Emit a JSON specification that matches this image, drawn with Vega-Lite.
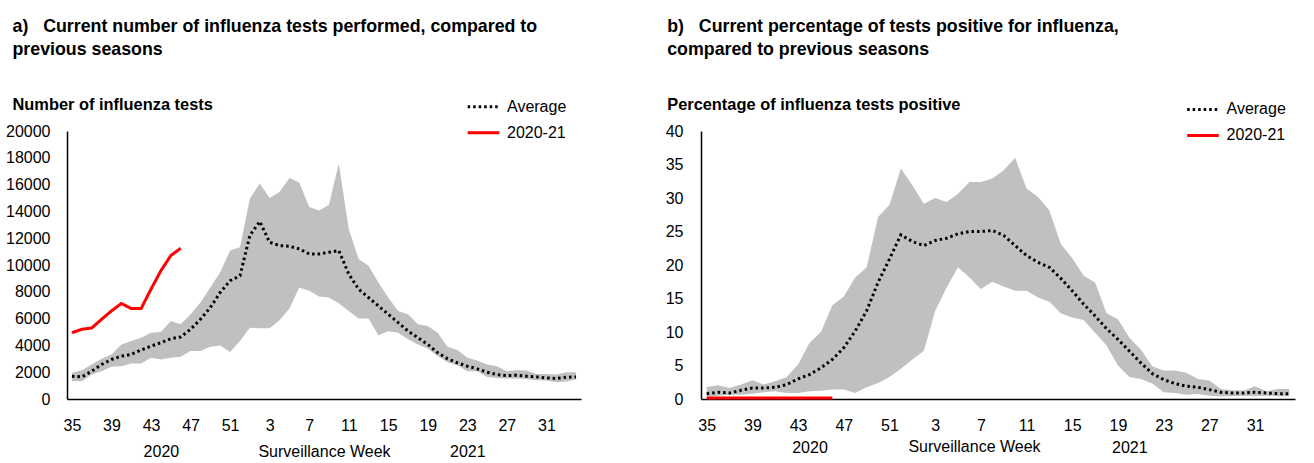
{
  "$schema": "https://vega.github.io/schema/vega-lite/v6.json",
  "background": "white",
  "padding": {"left": 5, "top": 17, "right": 5, "bottom": 0},
  "spacing": 82,
  "config": {
    "view": {"stroke": null},
    "font": "Liberation Sans",
    "axis": {"grid": false, "ticks": false, "domainColor": "black", "domainWidth": 1.5, "labelColor": "black", "labelFont": "Liberation Sans", "labelFontSize": 16, "titleFont": "Liberation Sans", "titleFontWeight": "normal", "titleFontSize": 16, "titleColor": "black", "labelOverlap": false},
    "axisY": {"labelOverlap": false},
    "legend": {"labelFont": "Liberation Sans", "labelFontSize": 16, "labelColor": "black", "symbolType": "stroke", "symbolStrokeWidth": 3, "padding": 0},
    "title": {"font": "Liberation Sans", "fontSize": 17.8, "fontWeight": "bold", "color": "black", "anchor": "start", "lineHeight": 23.5, "subtitleFont": "Liberation Sans", "subtitleFontSize": 16.4, "subtitleFontWeight": "bold", "subtitleColor": "black", "subtitlePadding": 38}
  },
  "datasets": {
    "tests": [
      {"wk": 35, "lo": 1325, "hi": 1950, "Average": 1700, "2020-21": 4950},
      {"wk": 36, "lo": 1325, "hi": 2150, "Average": 1650, "2020-21": 5200},
      {"wk": 37, "lo": 1825, "hi": 2575, "Average": 2075, "2020-21": 5300},
      {"wk": 38, "lo": 2075, "hi": 3000, "Average": 2575, "2020-21": 5950},
      {"wk": 39, "lo": 2400, "hi": 3325, "Average": 2950, "2020-21": 6575},
      {"wk": 40, "lo": 2450, "hi": 4075, "Average": 3200, "2020-21": 7125},
      {"wk": 41, "lo": 2650, "hi": 4325, "Average": 3325, "2020-21": 6750},
      {"wk": 42, "lo": 2650, "hi": 4575, "Average": 3650, "2020-21": 6750},
      {"wk": 43, "lo": 3075, "hi": 4950, "Average": 3950, "2020-21": 8200},
      {"wk": 44, "lo": 2950, "hi": 5000, "Average": 4200, "2020-21": 9575},
      {"wk": 45, "lo": 3075, "hi": 5825, "Average": 4500, "2020-21": 10700},
      {"wk": 46, "lo": 3150, "hi": 5575, "Average": 4625, "2020-21": 11250},
      {"wk": 47, "lo": 3575, "hi": 6325, "Average": 5200},
      {"wk": 48, "lo": 3575, "hi": 7200, "Average": 5950},
      {"wk": 49, "lo": 3900, "hi": 8325, "Average": 6825},
      {"wk": 50, "lo": 4000, "hi": 9450, "Average": 7950},
      {"wk": 51, "lo": 3500, "hi": 11075, "Average": 8825},
      {"wk": 52, "lo": 4325, "hi": 11325, "Average": 9200},
      {"wk": 1, "lo": 5325, "hi": 14950, "Average": 12200},
      {"wk": 2, "lo": 5275, "hi": 16075, "Average": 13250},
      {"wk": 3, "lo": 5275, "hi": 15000, "Average": 11700},
      {"wk": 4, "lo": 5875, "hi": 15450, "Average": 11450},
      {"wk": 5, "lo": 6750, "hi": 16500, "Average": 11400},
      {"wk": 6, "lo": 8325, "hi": 16150, "Average": 11200},
      {"wk": 7, "lo": 8075, "hi": 14325, "Average": 10825},
      {"wk": 8, "lo": 7650, "hi": 14075, "Average": 10825},
      {"wk": 9, "lo": 7575, "hi": 14500, "Average": 10950},
      {"wk": 10, "lo": 7150, "hi": 17575, "Average": 11075},
      {"wk": 11, "lo": 6575, "hi": 12700, "Average": 9325},
      {"wk": 12, "lo": 6000, "hi": 10450, "Average": 8200},
      {"wk": 13, "lo": 6000, "hi": 9950, "Average": 7575},
      {"wk": 14, "lo": 4750, "hi": 8700, "Average": 6950},
      {"wk": 15, "lo": 5050, "hi": 7575, "Average": 6325},
      {"wk": 16, "lo": 4950, "hi": 6575, "Average": 5700},
      {"wk": 17, "lo": 4450, "hi": 6325, "Average": 5075},
      {"wk": 18, "lo": 4075, "hi": 5575, "Average": 4575},
      {"wk": 19, "lo": 3750, "hi": 5450, "Average": 4075},
      {"wk": 20, "lo": 3200, "hi": 4950, "Average": 3450},
      {"wk": 21, "lo": 2750, "hi": 3900, "Average": 3000},
      {"wk": 22, "lo": 2525, "hi": 3650, "Average": 2700},
      {"wk": 23, "lo": 2075, "hi": 3075, "Average": 2450},
      {"wk": 24, "lo": 2075, "hi": 2875, "Average": 2250},
      {"wk": 25, "lo": 1650, "hi": 2575, "Average": 2000},
      {"wk": 26, "lo": 1575, "hi": 2450, "Average": 1825},
      {"wk": 27, "lo": 1525, "hi": 2075, "Average": 1750},
      {"wk": 28, "lo": 1525, "hi": 2150, "Average": 1775},
      {"wk": 29, "lo": 1500, "hi": 2125, "Average": 1700},
      {"wk": 30, "lo": 1400, "hi": 1875, "Average": 1650},
      {"wk": 31, "lo": 1375, "hi": 1875, "Average": 1575},
      {"wk": 32, "lo": 1250, "hi": 1825, "Average": 1525},
      {"wk": 33, "lo": 1300, "hi": 2000, "Average": 1625},
      {"wk": 34, "lo": 1450, "hi": 2000, "Average": 1650}
    ],
    "pos": [
      {"wk": 35, "lo": 0.3, "hi": 1.8, "Average": 0.8, "2020-21": 0.15},
      {"wk": 36, "lo": 0.5, "hi": 2.05, "Average": 1.0, "2020-21": 0.15},
      {"wk": 37, "lo": 0.65, "hi": 1.65, "Average": 0.9, "2020-21": 0.15},
      {"wk": 38, "lo": 0.65, "hi": 2.15, "Average": 1.3, "2020-21": 0.15},
      {"wk": 39, "lo": 0.8, "hi": 2.8, "Average": 1.65, "2020-21": 0.15},
      {"wk": 40, "lo": 1.0, "hi": 2.15, "Average": 1.65, "2020-21": 0.15},
      {"wk": 41, "lo": 1.15, "hi": 2.65, "Average": 1.75, "2020-21": 0.15},
      {"wk": 42, "lo": 0.9, "hi": 3.3, "Average": 2.15, "2020-21": 0.15},
      {"wk": 43, "lo": 0.9, "hi": 5.15, "Average": 3.0, "2020-21": 0.15},
      {"wk": 44, "lo": 1.15, "hi": 8.4, "Average": 3.65, "2020-21": 0.15},
      {"wk": 45, "lo": 1.25, "hi": 10.0, "Average": 4.65, "2020-21": 0.15},
      {"wk": 46, "lo": 1.4, "hi": 14.0, "Average": 5.9, "2020-21": 0.15},
      {"wk": 47, "lo": 1.4, "hi": 15.3, "Average": 7.65},
      {"wk": 48, "lo": 0.9, "hi": 18.15, "Average": 10.15},
      {"wk": 49, "lo": 1.75, "hi": 19.65, "Average": 13.15},
      {"wk": 50, "lo": 2.4, "hi": 27.15, "Average": 17.4},
      {"wk": 51, "lo": 3.3, "hi": 29.0, "Average": 20.9},
      {"wk": 52, "lo": 4.5, "hi": 34.4, "Average": 24.5},
      {"wk": 1, "lo": 5.9, "hi": 31.9, "Average": 23.5},
      {"wk": 2, "lo": 7.15, "hi": 29.15, "Average": 22.9},
      {"wk": 3, "lo": 13.15, "hi": 30.0, "Average": 23.65},
      {"wk": 4, "lo": 16.65, "hi": 29.4, "Average": 24.0},
      {"wk": 5, "lo": 19.65, "hi": 30.65, "Average": 24.65},
      {"wk": 6, "lo": 18.15, "hi": 32.4, "Average": 25.0},
      {"wk": 7, "lo": 16.4, "hi": 32.4, "Average": 25.0},
      {"wk": 8, "lo": 17.5, "hi": 32.9, "Average": 25.15},
      {"wk": 9, "lo": 16.8, "hi": 34.15, "Average": 24.4},
      {"wk": 10, "lo": 16.15, "hi": 36.0, "Average": 22.9},
      {"wk": 11, "lo": 16.15, "hi": 31.4, "Average": 21.4},
      {"wk": 12, "lo": 15.15, "hi": 30.15, "Average": 20.4},
      {"wk": 13, "lo": 14.5, "hi": 28.15, "Average": 19.65},
      {"wk": 14, "lo": 12.8, "hi": 23.15, "Average": 18.0},
      {"wk": 15, "lo": 12.15, "hi": 21.0, "Average": 16.15},
      {"wk": 16, "lo": 11.8, "hi": 18.4, "Average": 14.15},
      {"wk": 17, "lo": 9.9, "hi": 17.4, "Average": 12.4},
      {"wk": 18, "lo": 8.0, "hi": 12.8, "Average": 10.5},
      {"wk": 19, "lo": 5.0, "hi": 11.9, "Average": 8.9},
      {"wk": 20, "lo": 3.3, "hi": 9.15, "Average": 7.15},
      {"wk": 21, "lo": 3.0, "hi": 7.4, "Average": 5.4},
      {"wk": 22, "lo": 2.3, "hi": 4.9, "Average": 3.8},
      {"wk": 23, "lo": 1.0, "hi": 4.25, "Average": 2.9},
      {"wk": 24, "lo": 0.9, "hi": 4.25, "Average": 2.3},
      {"wk": 25, "lo": 0.65, "hi": 3.9, "Average": 1.9},
      {"wk": 26, "lo": 0.75, "hi": 3.0, "Average": 1.75},
      {"wk": 27, "lo": 0.5, "hi": 2.75, "Average": 1.4},
      {"wk": 28, "lo": 0.4, "hi": 1.5, "Average": 1.0},
      {"wk": 29, "lo": 0.4, "hi": 1.3, "Average": 0.9},
      {"wk": 30, "lo": 0.5, "hi": 1.25, "Average": 0.9},
      {"wk": 31, "lo": 0.4, "hi": 1.9, "Average": 1.0},
      {"wk": 32, "lo": 0.5, "hi": 1.15, "Average": 0.9},
      {"wk": 33, "lo": 0.4, "hi": 1.5, "Average": 0.8},
      {"wk": 34, "lo": 0.4, "hi": 1.5, "Average": 0.8}
    ]
  },
  "resolve": {"scale": {"color": "independent", "strokeDash": "independent"}},
  "hconcat": [
    {
      "width": 514,
      "height": 268,
      "title": {"text": ["a)\u00a0\u00a0\u00a0Current number of influenza tests performed, compared to", "previous seasons"], "subtitle": "Number of influenza tests", "dx": 7, "offset": -24},
      "data": {"name": "tests"},
      "encoding": {
        "x": {"field": "wk", "type": "ordinal",
          "scale": {"type": "point", "padding": 0.5, "domain": [35,36,37,38,39,40,41,42,43,44,45,46,47,48,49,50,51,52,1,2,3,4,5,6,7,8,9,10,11,12,13,14,15,16,17,18,19,20,21,22,23,24,25,26,27,28,29,30,31,32,33,34]},
          "axis": {"values": [35,39,43,44,47,51,3,7,11,15,19,23,27,31], "labelExpr": "datum.value == 44 ? ['', '2020'] : datum.value == 23 ? ['23', '2021'] : datum.label", "labelLineHeight": 26, "labelPadding": 18.5, "labelOverlap": false, "labelAngle": 0, "title": "Surveillance Week", "titleX": 257, "titleY": 52, "titleBaseline": "middle"}
        }
      },
      "layer": [
        {
          "mark": {"type": "area", "color": "#c0c0c0", "opacity": 1},
          "encoding": {
            "y": {"field": "lo", "type": "quantitative", "scale": {"domain": [0, 20000]}, "axis": {"values": [0,2000,4000,6000,8000,10000,12000,14000,16000,18000,20000], "format": "d", "title": null, "labelPadding": 17, "labelOverlap": false}},
            "y2": {"field": "hi"}
          }
        },
        {
          "transform": [{"fold": ["Average", "2020-21"], "as": ["series", "value"]}],
          "mark": {"type": "line", "strokeWidth": 3},
          "encoding": {
            "y": {"field": "value", "type": "quantitative", "scale": {"domain": [0, 20000]}, "axis": {"values": [0,2000,4000,6000,8000,10000,12000,14000,16000,18000,20000], "format": "d", "title": null, "labelPadding": 17, "labelOverlap": false}},
            "color": {"field": "series", "type": "nominal", "scale": {"domain": ["Average", "2020-21"], "range": ["black", "#ff0000"]},
              "legend": {"orient": "none", "legendX": 399, "legendY": -41.8, "title": null, "symbolSize": 1000, "rowPadding": -6, "labelOffset": 6}},
            "strokeDash": {"field": "series", "type": "nominal", "scale": {"domain": ["Average", "2020-21"], "range": [[2.5, 3], [1, 0]]},
              "legend": {"orient": "none", "legendX": 399, "legendY": -41.8, "title": null, "symbolSize": 1000, "rowPadding": -6, "labelOffset": 6}}
          }
        }
      ]
    },
    {
      "width": 594,
      "height": 268,
      "title": {"text": ["b)\u00a0\u00a0\u00a0Current percentage of tests positive for influenza,", "compared to previous seasons"], "subtitle": "Percentage of influenza tests positive", "dx": 2, "offset": -21.6},
      "data": {"name": "pos"},
      "encoding": {
        "x": {"field": "wk", "type": "ordinal",
          "scale": {"type": "point", "padding": 0.5, "domain": [35,36,37,38,39,40,41,42,43,44,45,46,47,48,49,50,51,52,1,2,3,4,5,6,7,8,9,10,11,12,13,14,15,16,17,18,19,20,21,22,23,24,25,26,27,28,29,30,31,32,33,34]},
          "axis": {"values": [35,39,43,44,47,51,3,7,11,15,19,20,23,27,31], "labelExpr": "datum.value == 44 ? ['', '2020'] : datum.value == 20 ? ['', '2021'] : datum.label", "labelLineHeight": 22.5, "labelPadding": 18, "labelOverlap": false, "labelAngle": 0, "title": "Surveillance Week", "titleX": 273, "titleY": 47.5, "titleBaseline": "middle"}
        }
      },
      "layer": [
        {
          "mark": {"type": "area", "color": "#c0c0c0", "opacity": 1},
          "encoding": {
            "y": {"field": "lo", "type": "quantitative", "scale": {"domain": [0, 40]}, "axis": {"values": [0,5,10,15,20,25,30,35,40], "title": null, "labelPadding": 18, "labelOverlap": false}},
            "y2": {"field": "hi"}
          }
        },
        {
          "transform": [{"fold": ["Average", "2020-21"], "as": ["series", "value"]}],
          "mark": {"type": "line", "strokeWidth": 3},
          "encoding": {
            "y": {"field": "value", "type": "quantitative", "scale": {"domain": [0, 40]}, "axis": {"values": [0,5,10,15,20,25,30,35,40], "title": null, "labelPadding": 18, "labelOverlap": false}},
            "color": {"field": "series", "type": "nominal", "scale": {"domain": ["Average", "2020-21"], "range": ["black", "#ff0000"]},
              "legend": {"orient": "none", "legendX": 484.5, "legendY": -39.1, "title": null, "symbolSize": 1000, "rowPadding": -3, "labelOffset": 6}},
            "strokeDash": {"field": "series", "type": "nominal", "scale": {"domain": ["Average", "2020-21"], "range": [[2.5, 3], [1, 0]]},
              "legend": {"orient": "none", "legendX": 484.5, "legendY": -39.1, "title": null, "symbolSize": 1000, "rowPadding": -3, "labelOffset": 6}}
          }
        }
      ]
    }
  ]
}
